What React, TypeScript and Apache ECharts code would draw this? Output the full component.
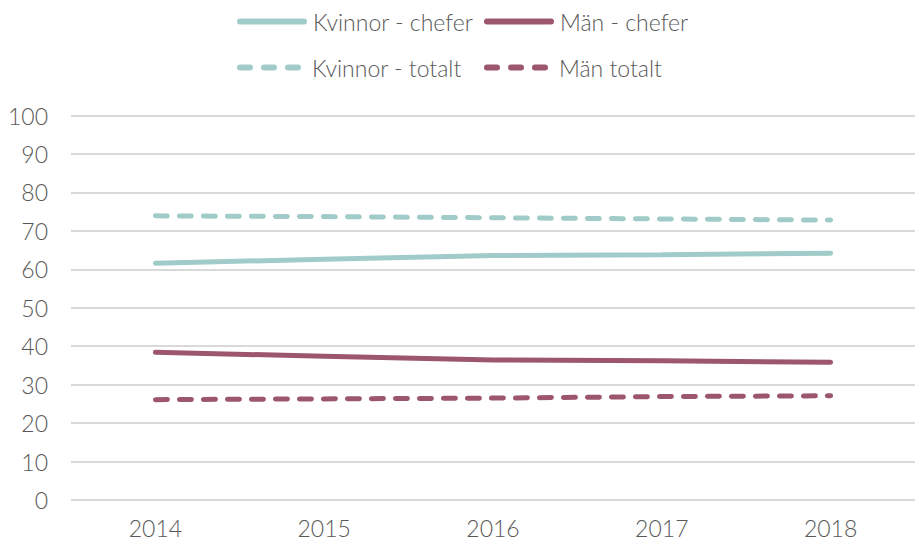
import React, { useEffect, useRef } from "react";
import * as echarts from "echarts";

const years = ["2014", "2015", "2016", "2017", "2018"];
const kvinnorChefer = [61.6, 62.6, 63.6, 63.8, 64.2];
const manChefer = [38.4, 37.4, 36.4, 36.2, 35.8];
const kvinnorTotalt = [73.9, 73.7, 73.4, 73.1, 72.8];
const manTotalt = [26.1, 26.3, 26.5, 26.9, 27.1];

const TEAL = "#a1cbc9";
const MAROON = "#9c566e";
const FONT = "Lato";
const TEXT = "#595959";

const SOLID_ICON = "path://M3,0H67A3,3,0,0,1,67,6H3A3,3,0,0,1,3,0Z";
const DASH_ICON =
  "path://M3,0H13A3,3,0,0,1,13,6H3A3,3,0,0,1,3,0ZM27,0H37A3,3,0,0,1,37,6H27A3,3,0,0,1,27,0ZM51,0H61A3,3,0,0,1,61,6H51A3,3,0,0,1,51,0Z";

export default function App() {
  const ref = useRef<HTMLDivElement>(null);
  useEffect(() => {
    const chart = echarts.init(ref.current!, null, { renderer: "svg" });
    const mk = (name: string, data: number[], color: string, dashed: boolean) => ({
      name,
      type: "line",
      data,
      symbol: "none",
      lineStyle: {
        color,
        width: 5,
        type: dashed ? [12, 12] : "solid",
        cap: "round",
      },
      itemStyle: { color },
    });
    const leg = (name: string, left: number, top: number, dashed: boolean) => ({
      left,
      top,
      padding: 0,
      data: [name],
      icon: dashed ? DASH_ICON : SOLID_ICON,
      itemWidth: dashed ? 64 : 70,
      itemHeight: 6,
      textStyle: {
        fontFamily: FONT,
        fontSize: 23,
        color: TEXT,
        fontWeight: 300,
        padding: [0, 0, 0, dashed ? 6 : 1],
      },
    });
    chart.setOption({
      animation: false,
      legend: [
        leg("Kvinnor - chefer", 237, 10, false),
        leg("Män - chefer", 484, 10, false),
        leg("Kvinnor - totalt", 237, 56, true),
        leg("Män totalt", 484, 56, true),
      ],
      grid: { left: 71, top: 115.5, width: 861, bottom: 41, containLabel: false },
      xAxis: {
        type: "category",
        data: years,
        boundaryGap: true,
        axisLine: { show: false },
        axisTick: { show: false },
        axisLabel: { fontFamily: FONT, fontSize: 23, color: TEXT, fontWeight: 300, margin: 16 },
      },
      yAxis: {
        type: "value",
        min: 0,
        max: 100,
        interval: 10,
        axisLine: { show: false },
        axisTick: { show: false },
        splitLine: { lineStyle: { color: "#d9d9d9", width: 2 } },
        axisLabel: { fontFamily: FONT, fontSize: 23, color: TEXT, fontWeight: 300, margin: 23 },
      },
      series: [
        mk("Kvinnor - chefer", kvinnorChefer, TEAL, false),
        mk("Män - chefer", manChefer, MAROON, false),
        mk("Kvinnor - totalt", kvinnorTotalt, TEAL, true),
        mk("Män totalt", manTotalt, MAROON, true),
      ],
    });
    return () => chart.dispose();
  }, []);
  return (
    <div
      ref={ref}
      style={{ position: "fixed", left: 0, top: 0, width: 915, height: 541, background: "#fff" }}
    />
  );
}
